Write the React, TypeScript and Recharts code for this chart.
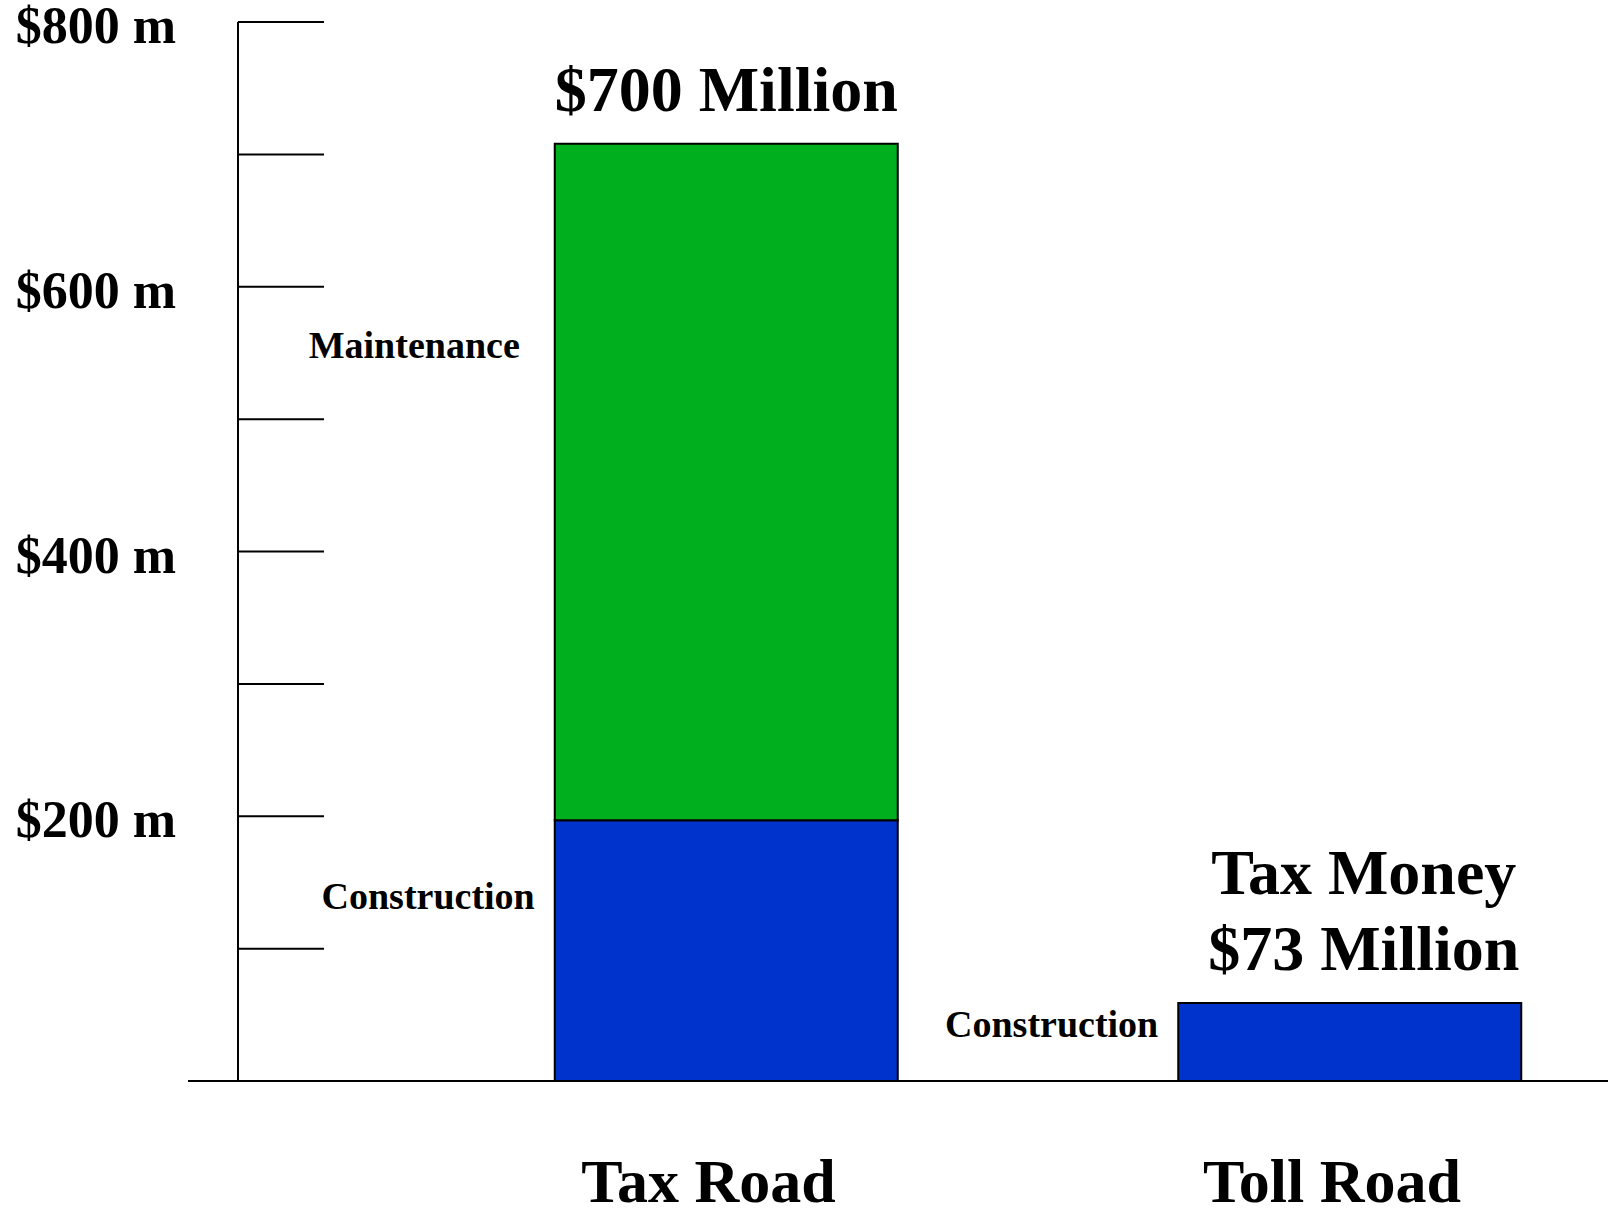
import { Bar, BarChart, LabelList, XAxis, YAxis } from 'recharts';

const roads = ['Tax Road', 'Toll Road'];
const construction = [197, 59];
const maintenance = [511, 0];
const totalLabels = [['$700 Million'], ['Tax Money', '$73 Million']];
const valueTicks = [0, 100, 200, 300, 400, 500, 600, 700, 800];
const labelledTicks = [200, 400, 600, 800];

const data = roads.map((road, i) => ({
  road,
  construction: construction[i],
  maintenance: maintenance[i],
}));

const FONT = "'Liberation Serif', 'Times New Roman', serif";
const GREEN = '#00AF1E';
const BLUE = '#0033CC';

function YTick(props: any) {
  const { x, y, payload } = props;
  const v = payload.value;
  return (
    <g>
      {v === 0 ? (
        <line x1={x - 50} x2={x} y1={y} y2={y} stroke="#000" strokeWidth={2} />
      ) : (
        <line x1={x} x2={x + 86} y1={y} y2={y} stroke="#000" strokeWidth={2} />
      )}
      {labelledTicks.includes(v) && (
        <text x={x - 62} y={y} dy={21} textAnchor="end" fontFamily={FONT} fontWeight="bold" fontSize={52} fill="#000">
          {`$${v} m`}
        </text>
      )}
    </g>
  );
}

function XTick(props: any) {
  const { x, y, payload } = props;
  return (
    <text x={x - 18} y={y} dy={113} textAnchor="middle" fontFamily={FONT} fontWeight="bold" fontSize={62} fill="#000">
      {payload.value}
    </text>
  );
}

function SideLabel(props: any) {
  const { x, y, height, value, text, gap } = props;
  if (!value) return null;
  return (
    <text
      x={Number(x) - gap}
      y={Number(y) + Number(height) * 0.3}
      dy={11}
      textAnchor="end"
      fontFamily={FONT}
      fontWeight="bold"
      fontSize={38}
      fill="#000"
    >
      {text}
    </text>
  );
}

function TotalLabel(props: any) {
  const { x, y, width, index } = props;
  const lines = totalLabels[index] || [];
  const cx = Number(x) + Number(width) / 2 + (lines.length > 1 ? 14 : 0);
  return (
    <text textAnchor="middle" fontFamily={FONT} fontWeight="bold" fontSize={64} fill="#000">
      {lines.map((line, k) => (
        <tspan key={line} x={cx} y={Number(y) - 33 - (lines.length - 1 - k) * 76}>
          {line}
        </tspan>
      ))}
    </text>
  );
}

export default function App() {
  return (
    <div style={{ position: 'absolute', left: 0, top: 0, width: 1608, height: 1209, background: '#fff' }}>
      <BarChart width={1608} height={1209} data={data} margin={{ top: 22, right: 0, bottom: 0, left: 0 }}>
        <XAxis
          dataKey="road"
          height={128}
          padding={{ left: 176.75, right: -53.75 }}
          axisLine={{ stroke: '#000', strokeWidth: 2 }}
          tickLine={false}
          tick={<XTick />}
          interval={0}
        />
        <YAxis
          type="number"
          domain={[0, 800]}
          ticks={valueTicks}
          interval={0}
          width={238}
          axisLine={{ stroke: '#000', strokeWidth: 2 }}
          tickLine={false}
          tickSize={0}
          tickMargin={0}
          tick={<YTick />}
        />
        <Bar dataKey="construction" stackId="a" fill={BLUE} stroke="#000" strokeWidth={2} barSize={343} isAnimationActive={false}>
          <LabelList dataKey="construction" content={(p: any) => <SideLabel {...p} text="Construction" gap={20} />} />
          <LabelList
            dataKey="construction"
            content={(p: any) => (data[p.index] && !data[p.index].maintenance ? <TotalLabel {...p} /> : null)}
          />
        </Bar>
        <Bar dataKey="maintenance" stackId="a" fill={GREEN} stroke="#000" strokeWidth={2} barSize={343} isAnimationActive={false}>
          <LabelList dataKey="maintenance" content={(p: any) => <SideLabel {...p} text="Maintenance" gap={35} />} />
          <LabelList dataKey="maintenance" content={(p: any) => (p.value ? <TotalLabel {...p} /> : null)} />
        </Bar>
      </BarChart>
    </div>
  );
}
